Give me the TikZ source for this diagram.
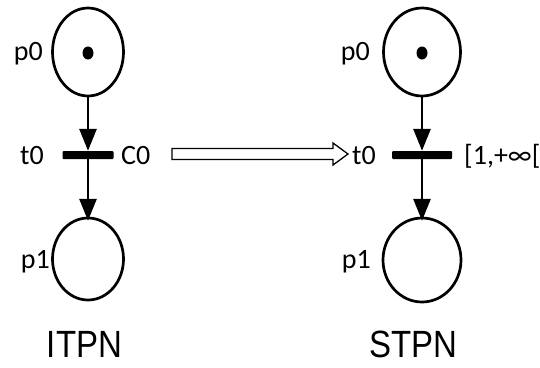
\documentclass[tikz,border=0pt]{standalone}
\usepackage{fontspec}
\setmainfont{Carlito}
\newfontfamily\arialf{Liberation Sans}
\usetikzlibrary{arrows.meta}
\begin{document}
\begin{tikzpicture}[x=1pt,y=-1pt,
  trans/.style={fill=black,draw=none,minimum width=51pt,minimum height=8pt,inner sep=0pt,rounded corners=1pt},
  arc/.style={line width=2.8pt,-{Triangle[length=22pt,width=17pt]}},
  lab/.style={font=\fontsize{28}{28}\selectfont,inner sep=0pt},
  title/.style={font=\arialf\fontsize{33}{33}\selectfont,inner sep=0pt}]
\useasboundingbox (0,0) rectangle (540,367);
% left net
\draw[line width=2.7pt] (88,52) ellipse [x radius=35.5pt,y radius=44pt];
\node[minimum width=71pt,minimum height=88pt,inner sep=0pt] (lp0) at (88,52) {};
\fill (88,53) ellipse [x radius=5.5pt,y radius=6.5pt];
\node[trans] (lt0) at (88,155) {};
\draw[line width=2.7pt] (88,259) ellipse [x radius=35.5pt,y radius=41pt];
\node[minimum width=71pt,minimum height=82pt,inner sep=0pt] (lp1) at (88,259) {};
\draw[arc] (lp0.south) -- (lt0.north);
\draw[arc] (lt0.center) -- ([yshift=-3pt]lp1.north);
\node[lab,anchor=east] (lp0l) at (43,54) {p0};
\node[lab,anchor=east] (lt0l) at (44,156) {t0};
\node[lab,anchor=west] (lc0) at (121,156) {C0};
\node[lab,anchor=east] (lp1l) at (50,262) {p1};
\node[title] (itpn) at (84.5,344) {\scalebox{1}[1.15]{ITPN}};
% right net
\draw[line width=2.7pt] (422,52) ellipse [x radius=38.5pt,y radius=44pt];
\node[minimum width=77pt,minimum height=88pt,inner sep=0pt] (rp0) at (422,52) {};
\fill (422,53) ellipse [x radius=5.5pt,y radius=6.5pt];
\node[trans,minimum width=60pt] (rt0) at (422,155) {};
\draw[line width=2.7pt] (422,260) ellipse [x radius=39pt,y radius=42pt];
\node[minimum width=78pt,minimum height=84pt,inner sep=0pt] (rp1) at (422,260) {};
\draw[arc] (rp0.south) -- (rt0.north);
\draw[arc] (rt0.center) -- ([yshift=-3pt]rp1.north);
\node[lab,anchor=east] (rp0l) at (370,54) {p0};
\node[lab,anchor=west] (rt0l) at (352,156) {t0};
\node[lab,anchor=west] (rint) at (464,156) {[1,+∞[};
\node[lab,anchor=east] (rp1l) at (371,262) {p1};
\node[title] (stpn) at (413.5,344) {\scalebox{1}[1.15]{STPN}};
% transformation arrow
\coordinate (as) at (172,154);
\coordinate (ae) at (348,154);
\draw[line width=1.3pt,fill=white,line join=miter]
  (172,148.5) -- (333,148.5) -- (333,143) -- (ae) -- (333,165) -- (333,159.5) -- (172,159.5) -- cycle;
\end{tikzpicture}
\end{document}
